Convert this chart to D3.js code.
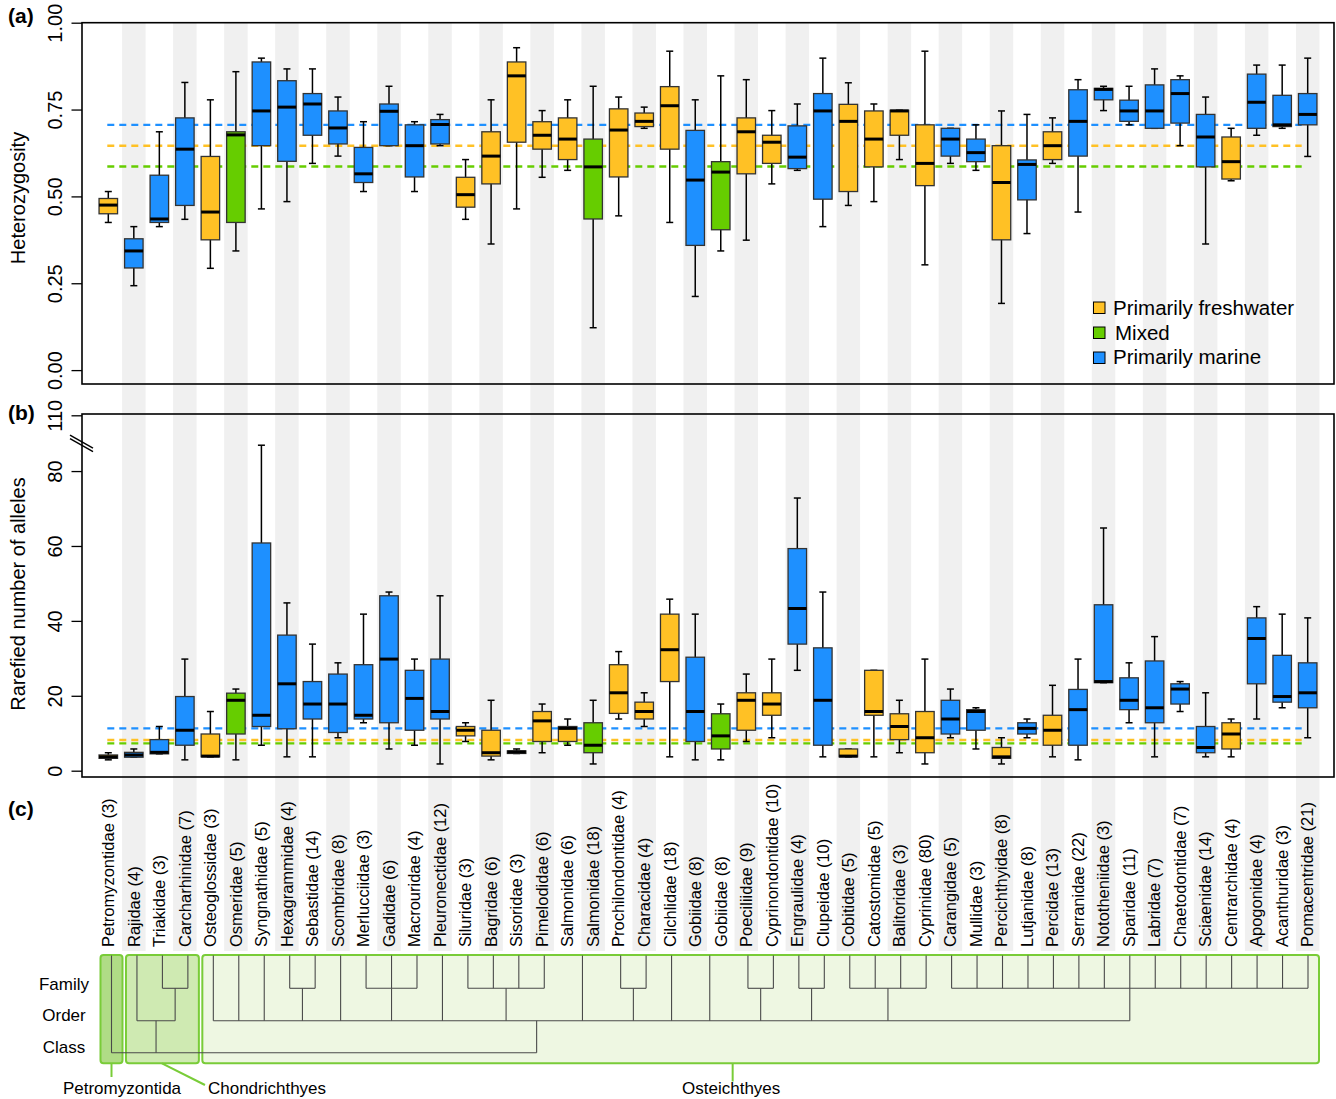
<!DOCTYPE html>
<html><head><meta charset="utf-8">
<script src="https://cdn.jsdelivr.net/npm/d3@7"></script>
<style>
body{margin:0;background:#fff}
svg{display:block}
text{font-family:"Liberation Sans",Arial,Helvetica,sans-serif}
</style>
</head><body>
<svg id="c" width="1336" height="1099"></svg>
<script>
// ---------------- DATA ----------------
const families = ["Petromyzontidae (3)","Rajidae (4)","Triakidae (3)","Carcharhinidae (7)","Osteoglossidae (3)","Osmeridae (5)","Syngnathidae (5)","Hexagrammidae (4)","Sebastidae (14)","Scombridae (8)","Merlucciidae (3)","Gadidae (6)","Macrouridae (4)","Pleuronectidae (12)","Siluridae (3)","Bagridae (6)","Sisoridae (3)","Pimelodidae (6)","Salmonidae (6)","Salmonidae (18)","Prochilondontidae (4)","Characidae (4)","Cilchlidae (18)","Gobiidae (8)","Gobiidae (8)","Poeciliidae (9)","Cyprinondontidae (10)","Engraulidae (4)","Clupeidae (10)","Cobitidae (5)","Catostomidae (5)","Balitoridae (3)","Cyprinidae (80)","Carangidae (5)","Mullidae (3)","Percichthyidae (8)","Lutjanidae (8)","Percidae (13)","Serranidae (22)","Nototheniidae (3)","Sparidae (11)","Labridae (7)","Chaetodontidae (7)","Sciaenidae (14)","Centrarchidae (4)","Apogonidae (4)","Acanthuridae (3)","Pomacentridae (21)"];

// F = primarily freshwater, X = mixed, M = primarily marine
const habitat = ["F","M","M","M","F","X","M","M","M","M","M","M","M","M","F","F","F","F","F","X","F","F","F","M","X","F","F","M","M","F","F","F","F","M","M","F","M","F","M","M","M","M","M","M","F","M","M","M"];

// [lower whisker, Q1, median, Q3, upper whisker]
const heterozygosity = [
[0.425,0.450,0.475,0.494,0.514],[0.243,0.294,0.343,0.378,0.413],[0.413,0.425,0.435,0.561,0.686],[0.434,0.474,0.636,0.726,0.828],
[0.293,0.375,0.455,0.615,0.778],[0.343,0.425,0.677,0.686,0.859],[0.464,0.646,0.746,0.887,0.898],[0.485,0.601,0.757,0.833,0.867],
[0.595,0.676,0.766,0.796,0.867],[0.616,0.651,0.697,0.746,0.786],[0.514,0.540,0.565,0.641,0.715],[0.646,0.646,0.745,0.766,0.817],
[0.514,0.556,0.646,0.706,0.715],[0.646,0.651,0.707,0.721,0.736],[0.434,0.469,0.505,0.555,0.606],[0.363,0.536,0.616,0.686,0.778],
[0.464,0.656,0.847,0.887,0.928],[0.555,0.636,0.676,0.715,0.747],[0.575,0.606,0.665,0.726,0.778],[0.122,0.435,0.585,0.665,0.817],
[0.444,0.556,0.691,0.752,0.786],[0.696,0.701,0.716,0.740,0.757],[0.425,0.636,0.761,0.816,0.918],[0.212,0.359,0.547,0.690,0.778],
[0.343,0.404,0.570,0.600,0.847],[0.374,0.565,0.686,0.726,0.836],[0.536,0.595,0.656,0.676,0.747],[0.575,0.580,0.613,0.703,0.766],
[0.413,0.492,0.746,0.796,0.898],[0.474,0.514,0.716,0.765,0.827],[0.485,0.585,0.665,0.746,0.766],[0.606,0.676,0.746,0.748,0.748],
[0.303,0.531,0.595,0.706,0.918],[0.595,0.616,0.665,0.696,0.696],[0.575,0.600,0.626,0.665,0.706],[0.192,0.375,0.540,0.646,0.746],
[0.393,0.490,0.592,0.605,0.736],[0.595,0.606,0.646,0.686,0.726],[0.455,0.616,0.716,0.807,0.836],[0.747,0.778,0.808,0.811,0.817],
[0.706,0.716,0.746,0.777,0.817],[0.696,0.696,0.746,0.821,0.867],[0.646,0.711,0.796,0.836,0.847],[0.363,0.585,0.671,0.736,0.786],
[0.545,0.550,0.600,0.671,0.696],[0.676,0.696,0.771,0.852,0.878],[0.696,0.701,0.706,0.791,0.878],[0.615,0.706,0.736,0.796,0.898]
];

const alleles = [
[2.9,3.3,3.7,4.2,4.8],[3.6,3.6,4.2,4.9,5.8],[4.5,4.5,4.9,8.3,11.8],[2.9,6.8,10.8,19.8,29.8],
[3.7,3.7,3.9,9.8,15.8],[2.9,9.8,18.8,20.7,21.8],[6.8,11.8,14.8,60.8,86.9],[3.7,11.2,23.2,36.2,44.8],
[3.7,13.8,17.8,23.8,33.8],[8.8,10.2,17.8,25.8,28.8],[12.8,13.8,14.8,28.3,41.8],[5.8,12.8,29.8,46.7,47.7],
[6.8,10.8,19.3,26.8,29.8],[1.8,13.8,15.8,29.8,46.7],[7.8,9.3,10.8,11.8,12.8],[2.9,3.9,4.8,10.8,18.8],
[4.6,4.6,5.0,5.3,5.8],[4.8,7.8,13.3,15.8,17.8],[6.8,7.8,11.3,11.8,13.8],[1.8,4.8,6.8,12.8,18.8],
[13.8,15.3,20.8,28.3,31.8],[11.8,13.8,15.8,18.3,20.8],[3.7,23.8,32.3,41.8,45.8],[2.9,7.8,15.8,30.3,41.8],
[2.9,5.8,9.3,15.2,17.8],[7.8,10.8,18.8,20.8,25.8],[8.8,14.8,17.8,20.8,29.8],[26.8,33.8,43.3,59.3,72.8],
[3.7,6.8,18.8,32.8,47.7],[3.7,3.7,3.9,5.8,5.8],[3.7,14.8,15.8,26.8,26.8],[4.8,8.3,11.8,15.2,18.8],
[1.8,4.8,8.8,15.8,29.8],[8.8,9.8,13.8,18.8,21.8],[5.8,10.8,15.8,16.3,16.8],[1.8,3.3,3.7,6.2,8.8],
[8.8,9.8,11.3,12.8,13.8],[3.7,6.8,10.8,14.8,22.8],[2.9,6.8,16.3,21.7,29.8],[23.5,23.5,23.8,44.3,64.8],
[12.8,16.3,18.8,24.8,28.8],[3.7,12.8,16.8,29.3,35.8],[15.8,17.8,21.8,23.2,23.8],[3.7,4.8,6.2,11.8,20.8],
[3.7,5.8,9.8,12.8,13.8],[13.8,23.2,35.3,40.8,43.8],[16.8,18.3,19.8,30.8,41.8],[8.8,16.8,20.8,28.8,40.8]
];

const habitatCodes = ["F","X","M"];
const habitatNames = ["Primarily freshwater","Mixed","Primarily marine"];
const hetMeans = [0.646, 0.586, 0.706];
const alleleMeans = [8.2, 7.3, 11.3];
const hetTicks = [0, 0.25, 0.5, 0.75, 1.0];
const hetTickLabels = ["0.00","0.25","0.50","0.75","1.00"];
const alleleTicks = [0, 20, 40, 60, 80, 110];
const alleleTickLabels = ["0","20","40","60","80","110"];
const levelNames = ["Family","Order","Class"];

// taxonomy dendrogram: classes -> orders -> families (column indices; nested pair = pooled leaf)
const taxonClasses = [
  {name:"Petromyzontida", orders:[[0]], join:0},
  {name:"Chondrichthyes", orders:[[1],[2,3]], join:1.75},
  {name:"Osteichthyes", orders:[[4],[5],[6],[7,8],[9],[10,11,12],[13],[14,15,16,17],[[18,19]],[20,21],[22],[[23,24]],[25,26],[27,28],[29,30,31,32],
     [33,34,35,36,37,38,39,40,41,42,43,44,45,46,47]], join:16.7}
];

// ---------------- DRAWING ----------------
const colors = {F:"#FFC125", X:"#66CD00", M:"#1E90FF"};
const svg = d3.select("#c");
const n = families.length;
const x = d3.scaleLinear().domain([0, n-1]).range([108.3, 1307.7]);
const PA = {left:82, right:1334, top:22.7, bottom:384};
const PB = {left:82, right:1334, top:414, bottom:777};
const yA = d3.scaleLinear().domain([-0.04, 1.0]).range([PA.bottom, PA.top]);
const yB = d3.scaleLinear().domain([0, 88, 110]).range([770.7, 441.1, 415.3]);
const stripeBottom = 951;
const boxW = 18.5, capW = 7;

// background stripes
svg.append("g").selectAll("rect")
  .data(d3.range(n).filter(i => i % 2 === 1))
  .join("rect")
  .attr("x", i => x(i) - 11.75).attr("y", PA.top)
  .attr("width", 23.5).attr("height", stripeBottom - PA.top)
  .attr("fill", "#f0f0f0");

function drawPanel(P, y, stats, means, ticks, tickLabels, title, tag, tagY, titleY) {
  const g = svg.append("g");
  // mean lines (behind boxes)
  g.selectAll("line.mean").data(means).join("line").attr("class","mean")
    .attr("x1", x(0)-1).attr("x2", x(n-1)-6)
    .attr("y1", d=>y(d)).attr("y2", d=>y(d))
    .attr("stroke",(d,i)=>colors[habitatCodes[i]]).attr("stroke-width",2.4)
    .attr("stroke-dasharray","7,5");
  // boxes
  const b = g.selectAll("g.bx").data(stats).join("g").attr("class","bx");
  b.append("line").attr("x1",(d,i)=>x(i)).attr("x2",(d,i)=>x(i))
    .attr("y1",d=>y(d[0])).attr("y2",d=>y(d[4])).attr("stroke","#000").attr("stroke-width",1.5);
  b.append("line").attr("x1",(d,i)=>x(i)-capW/2).attr("x2",(d,i)=>x(i)+capW/2)
    .attr("y1",d=>y(d[4])).attr("y2",d=>y(d[4])).attr("stroke","#000").attr("stroke-width",1.5);
  b.append("line").attr("x1",(d,i)=>x(i)-capW/2).attr("x2",(d,i)=>x(i)+capW/2)
    .attr("y1",d=>y(d[0])).attr("y2",d=>y(d[0])).attr("stroke","#000").attr("stroke-width",1.5);
  b.append("rect").attr("x",(d,i)=>x(i)-boxW/2).attr("width",boxW)
    .attr("y",d=>y(d[3])).attr("height",d=>Math.max(0.5, y(d[1])-y(d[3])))
    .attr("fill",(d,i)=>colors[habitat[i]]).attr("stroke","#333").attr("stroke-width",1.3);
  b.append("line").attr("x1",(d,i)=>x(i)-boxW/2).attr("x2",(d,i)=>x(i)+boxW/2)
    .attr("y1",d=>y(d[2])).attr("y2",d=>y(d[2])).attr("stroke","#000").attr("stroke-width",3);
  // frame
  g.append("rect").attr("x",P.left).attr("y",P.top).attr("width",P.right-P.left).attr("height",P.bottom-P.top)
    .attr("fill","none").attr("stroke","#000").attr("stroke-width",1.6);
  // axis
  const ax = d3.axisLeft(y).tickValues(ticks).tickSize(10.5).tickFormat((d,i)=>tickLabels[i]);
  const ag = g.append("g").attr("transform",`translate(${P.left},0)`).call(ax);
  ag.select(".domain").remove();
  ag.selectAll(".tick line").attr("stroke","#000").attr("stroke-width",1.3);
  ag.selectAll(".tick text").attr("x",0).attr("y",-20.5).attr("dy",0)
    .attr("transform","rotate(-90)").attr("text-anchor","middle")
    .style("font-size","20px").style("font-family",'"Liberation Sans",Arial,sans-serif').attr("fill","#000");
  // title
  g.append("text").attr("transform",`translate(25,${titleY}) rotate(-90)`).attr("text-anchor","middle")
    .style("font-size","20px").text(title);
  // tag
  g.append("text").attr("x",8).attr("y",tagY).style("font-size","21px").style("font-weight","bold").text(tag);
  return g;
}

drawPanel(PA, yA, heterozygosity, hetMeans, hetTicks, hetTickLabels, "Heterozygosity", "(a)", 23, 198);
const gB = drawPanel(PB, yB, alleles, alleleMeans, alleleTicks, alleleTickLabels, "Rarefied number of alleles", "(b)", 420, 594);

// axis break marks
const by = yB(88);
[0, 3.6].forEach(off => {
  gB.append("line").attr("x1",70).attr("y1",by-6+off).attr("x2",93).attr("y2",by+7+off)
    .attr("stroke","#000").attr("stroke-width",1.4);
});

// legend
const lg = svg.append("g");
habitatNames.forEach((name,i) => {
  lg.append("rect").attr("x",1093.5).attr("y",302+25*i).attr("width",11.5).attr("height",11.5)
    .attr("fill",colors[habitatCodes[i]]).attr("stroke","#000").attr("stroke-width",1);
  lg.append("text").attr("x", i===1 ? 1115 : 1113).attr("y",315+24.7*i).style("font-size","20.5px").text(name);
});

// panel (c)
svg.append("text").attr("x",8).attr("y",816).style("font-size","21px").style("font-weight","bold").text("(c)");

// category labels
svg.append("g").selectAll("text").data(families).join("text")
  .attr("transform",(d,i)=>`translate(${x(i)},947) rotate(-90)`)
  .attr("dy","0.35em").attr("text-anchor","start")
  .style("font-size","16.5px").text(d=>d);

// dendrogram
const dx = d3.scaleLinear().domain([0, n-1]).range([111.5, 1308]);
const lv = {top:955.5, family:988.3, order:1020.7, cls:1052.8};
const boxTop = 955, boxBot = 1063.3;
const greens = {border:"#79cc38", fills:["#b0dc86","#cfeab2","#eef7e2"]};
const dg = svg.append("g");
const leafPos = l => Array.isArray(l) ? d3.mean(l) : l;
const flat = c => c.orders.flat().map(l => Array.isArray(l) ? l : [l]).flat();

taxonClasses.forEach((c,ci) => {
  const cols = flat(c);
  dg.append("rect").attr("x", dx(d3.min(cols)) - 11).attr("y", boxTop)
    .attr("width", dx(d3.max(cols)) - dx(d3.min(cols)) + 22).attr("height", boxBot - boxTop)
    .attr("rx",3).attr("fill",greens.fills[ci]).attr("stroke",greens.border).attr("stroke-width",2);
});

const ln = (x1,y1,x2,y2) => dg.append("line").attr("x1",x1).attr("y1",y1).attr("x2",x2).attr("y2",y2)
  .attr("stroke","#4a4a4a").attr("stroke-width",1.1);

const classNodes = [];
taxonClasses.forEach(c => {
  const multiOrder = c.orders.length > 1;
  const orderBottom = multiOrder ? lv.order : lv.cls;
  const nodes = c.orders.map(o => {
    const leaves = o.map(leafPos);
    if (leaves.length > 1) {
      leaves.forEach(l => ln(dx(l), lv.top, dx(l), lv.family));
      ln(dx(leaves[0]), lv.family, dx(leaves[leaves.length-1]), lv.family);
      const node = (leaves[0] + leaves[leaves.length-1]) / 2;
      ln(dx(node), lv.family, dx(node), orderBottom);
      return node;
    } else {
      ln(dx(leaves[0]), lv.top, dx(leaves[0]), orderBottom);
      return leaves[0];
    }
  });
  if (multiOrder) {
    ln(dx(d3.min(nodes)), lv.order, dx(d3.max(nodes)), lv.order);
    ln(dx(c.join), lv.order, dx(c.join), lv.cls);
  }
  classNodes.push(c.join);
});
ln(dx(d3.min(classNodes)), lv.cls, dx(d3.max(classNodes)), lv.cls);

// level names
const lvYs = [990, 1021, 1053];
levelNames.forEach((t,i) => svg.append("text").attr("x",64).attr("y",lvYs[i]).attr("text-anchor","middle")
  .style("font-size","17px").text(t));

// class name callouts
const gc = svg.append("g");
const callStroke = (x1,y1,x2,y2) => gc.append("line").attr("x1",x1).attr("y1",y1).attr("x2",x2).attr("y2",y2)
  .attr("stroke",greens.border).attr("stroke-width",2);
// Petromyzontida
callStroke(dx(0), boxBot, dx(0), 1077);
gc.append("text").attr("x", dx(0)+10.5).attr("y",1094).attr("text-anchor","middle").style("font-size","17px").text(taxonClasses[0].name);
// Chondrichthyes
callStroke(dx(1)+25, boxBot, dx(1)+68, 1085);
gc.append("text").attr("x", dx(1)+71).attr("y",1094).attr("text-anchor","start").style("font-size","17px").text(taxonClasses[1].name);
// Osteichthyes
const oc = (dx(4) - 11 + dx(n-1) + 11) / 2 - 28;
callStroke(oc, boxBot, oc, 1081.5);
gc.append("text").attr("x", oc-1.5).attr("y",1094).attr("text-anchor","middle").style("font-size","17px").text(taxonClasses[2].name);
</script>
</body></html>
